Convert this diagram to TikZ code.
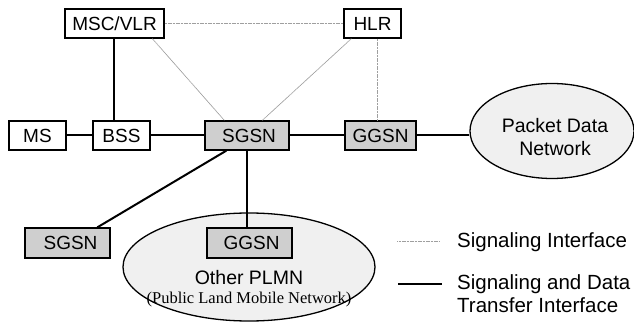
\documentclass[tikz,border=0pt]{standalone}
\usepackage{fontspec}
\setmainfont{Liberation Sans}
\newfontfamily\serifface{Liberation Serif}
\usetikzlibrary{shapes.geometric,calc}
\tikzset{
  box/.style={draw=black, line width=1.3pt, fill=white, minimum height=29pt, inner sep=0pt, font=\fontsize{19}{23}\selectfont},
  gbox/.style={box, fill=gray!38},
  cloud/.style={ellipse, draw=black, line width=1.3pt, fill=gray!12, inner sep=0pt},
  data/.style={line width=2pt, black},
  sig/.style={line width=0.7pt, gray!75, dash pattern=on 1.2pt off 0.4pt},
  lbl/.style={font=\fontsize{19.5}{23}\selectfont, inner sep=0pt, align=center},
  leg/.style={font=\fontsize{20.5}{23}\selectfont, inner sep=0pt, align=left}
}
\begin{document}
\begin{tikzpicture}[x=1pt,y=-1pt]
\useasboundingbox (0,0) rectangle (634,323);
% nodes
\node[box, minimum width=99pt] (msc) at (114.5,23.5) {MSC/VLR};
\node[box, minimum width=57pt] (hlr) at (372.5,23.5) {HLR};
\node[box, minimum width=57pt] (ms) at (37.5,135.5) {MS};
\node[box, minimum width=57pt] (bss) at (121.5,135.5) {BSS};
\node[gbox, minimum width=84pt] (sgsn) at (247,135.5) {\hspace{4pt}SGSN};
\node[gbox, minimum width=71pt] (ggsn) at (380.5,135.5) {GGSN};
\node[cloud, minimum width=164pt, minimum height=95pt] (pdn) at (552,131) {};
\node[lbl] (pdnt) at (555,137) {Packet Data\\Network};
\node[cloud, minimum width=252pt, minimum height=108pt] (plmn) at (249,267) {};
\node[gbox, minimum width=85pt, minimum height=30pt] (sgsn2) at (67.5,243) {\hspace{6pt}SGSN};
\node[gbox, minimum width=85pt, minimum height=30pt] (ggsn2) at (249.5,243) {\hspace{4pt}GGSN};
\node[lbl] (plmnt) at (249,278) {Other PLMN};
\node[inner sep=0pt, font=\serifface\fontsize{16.5}{18}\selectfont] (plmnf) at (249,299.5) {(Public Land Mobile Network)};
% data links
\draw[data] ([xshift=50pt]msc.south west) -- ([xshift=50pt]msc.south west |- bss.north);
\draw[data] (ms) -- (bss);
\draw[data] (bss) -- (sgsn);
\draw[data] (sgsn) -- (ggsn);
\draw[data] (ggsn.east) -- (ggsn.east -| pdn.west);
\draw[data] ([xshift=22pt]sgsn.south west) -- ([xshift=73pt]sgsn2.north west);
\draw[data] ([xshift=43pt]sgsn.south west) -- ([xshift=41pt]ggsn2.north west);
% signaling
\draw[sig] (msc.east) -- (hlr.west);
\draw[sig] ([xshift=88pt]msc.south west) -- ([xshift=20pt]sgsn.north west);
\draw[sig] ([xshift=58pt]sgsn.north west) -- ([xshift=8pt]hlr.south west);
\draw[sig] ([xshift=34pt]hlr.south west) -- ([xshift=33pt]ggsn.north west);
% legend
\coordinate (l1a) at (397,241);
\coordinate (l1b) at (440,241);
\coordinate (l2a) at (398,284);
\coordinate (l2b) at (442,284);
\draw[sig] (l1a) -- (l1b);
\draw[data] (l2a) -- (l2b);
\node[leg, anchor=west] (t1) at (457,242) {Signaling Interface};
\node[leg, anchor=west] (t2) at (457,293.5) {Signaling and Data\\Transfer Interface};
\end{tikzpicture}
\end{document}
